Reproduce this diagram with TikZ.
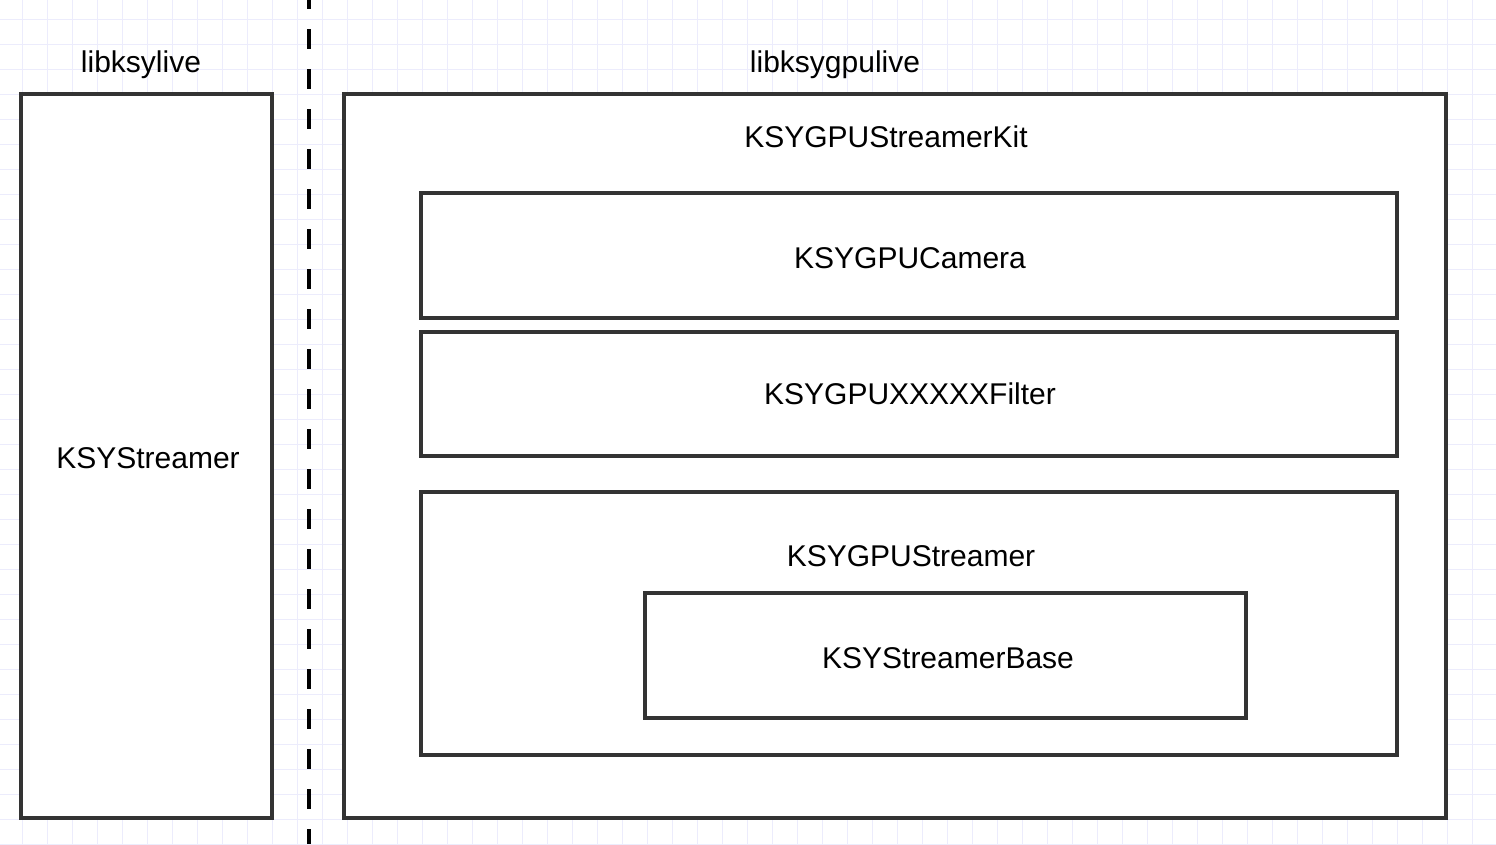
\documentclass[tikz,border=0pt]{standalone}
\usepackage{fontspec}
\setmainfont{Liberation Sans}
\begin{document}
\begin{tikzpicture}[x=1pt,y=-1pt,
  box/.style={draw=black!80, line width=3.2pt, fill=none},
  lbl/.style={font=\fontsize{30}{30}\selectfont, inner sep=0pt, anchor=base},
  gridline/.style={draw={rgb,255:red,236;green,236;blue,252}, line width=1pt},
  divider/.style={draw=black, line width=4.5pt, dash pattern=on 20pt off 20pt, dash phase=11pt}
]
\useasboundingbox[fill=white] (0,0) rectangle (1496,844);
% grid
\foreach \k in {0,...,59} {
  \draw[gridline] ({22+25*\k},0) -- ({22+25*\k},844);
}
\foreach \k in {0,...,33} {
  \draw[gridline] (0,{19.5+25*\k}) -- (1496,{19.5+25*\k});
}
% divider
\coordinate (dtop) at (309,0);
\coordinate (dbot) at (309,844);
\draw[divider] (dtop) -- (dbot);
% boxes
\draw[box, fill=white] (21,94) rectangle (272,818);
\draw[box, fill=white] (344,94) rectangle (1446,818);
\draw[box] (421,193) rectangle (1397,318);
\draw[box] (421,332) rectangle (1397,456);
\draw[box] (421,492) rectangle (1397,755);
\draw[box] (645,593) rectangle (1246,718);
% labels
\node[lbl] (libA) at (141,72) {libksylive};
\node[lbl] (libB) at (835,72) {libksygpulive};
\node[lbl] (kit) at (886,147) {KSYGPUStreamerKit};
\node[lbl] (cam) at (910,268) {KSYGPUCamera};
\node[lbl] (flt) at (910,404) {KSYGPUXXXXXFilter};
\node[lbl] (str) at (148,468) {KSYStreamer};
\node[lbl] (gst) at (911,566) {KSYGPUStreamer};
\node[lbl] (base) at (948,668) {KSYStreamerBase};
\end{tikzpicture}
\end{document}
